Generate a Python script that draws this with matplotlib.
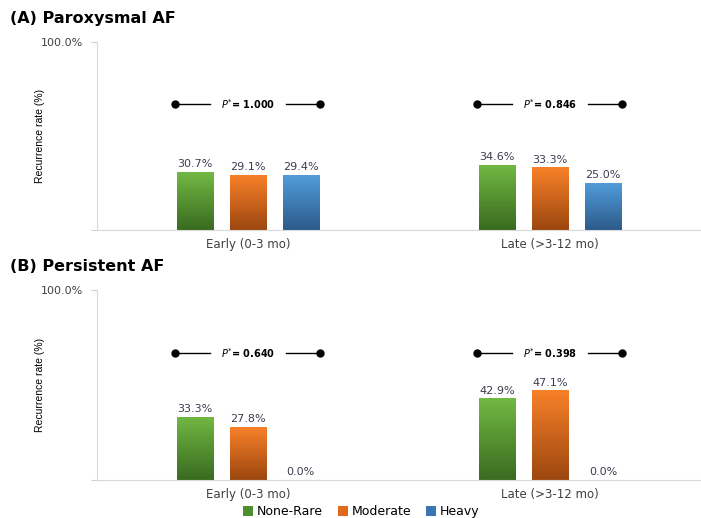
import matplotlib
matplotlib.use("Agg")
import matplotlib.pyplot as plt
import numpy as np
from matplotlib.colors import LinearSegmentedColormap
from matplotlib.patches import Patch

# data
periods = ["Early (0-3 mo)", "Late (>3-12 mo)"]
groups = ["None-Rare", "Moderate", "Heavy"]
parox = [[30.7, 29.1, 29.4], [34.6, 33.3, 25.0]]
persist = [[33.3, 27.8, 0.0], [42.9, 47.1, 0.0]]
parox_p = ["1.000", "0.846"]
persist_p = ["0.640", "0.398"]
panel_titles = ["(A) Paroxysmal AF", "(B) Persistent AF"]

# gradient colours: (top, bottom)
grad = [("#72b843", "#3a6b20"), ("#f88028", "#9c4710"), ("#529ddc", "#2c5b8a")]
legend_cols = ["#4f8f2e", "#e06a1c", "#3a76b0"]

width = 0.12
step = 0.1755
p_height = 67

fig = plt.figure(figsize=(7.01, 5.18), dpi=100)
ax_a = fig.add_axes([0.138, 0.556, 0.862, 0.363])
ax_b = fig.add_axes([0.138, 0.0734, 0.862, 0.367])


def draw_panel(ax, values, pvals):
    x = np.arange(len(periods))
    for g in range(len(groups)):
        vals = [v[g] for v in values]
        bars = ax.bar(x + (g - 1) * step, vals, width, color="none",
                      edgecolor="none", zorder=2)
        cmap = LinearSegmentedColormap.from_list("g%d" % g, [grad[g][1], grad[g][0]])
        for b, v in zip(bars, vals):
            if v > 0:
                img = ax.imshow(np.linspace(0, 1, 64).reshape(-1, 1), cmap=cmap,
                                origin="lower", aspect="auto",
                                extent=[b.get_x(), b.get_x() + b.get_width(), 0, v],
                                zorder=2)
                img.set_clip_path(b)
            ax.text(b.get_x() + b.get_width() / 2, v + 1.5, "%.1f%%" % v,
                    ha="center", va="bottom", fontsize=8, color="#3c3c50")
    # p-value brackets
    for xi, p in zip(x, pvals):
        ax.plot([xi - 0.24, xi - 0.125], [p_height, p_height], color="black", lw=1)
        ax.plot([xi + 0.125, xi + 0.24], [p_height, p_height], color="black", lw=1)
        ax.plot([xi - 0.24, xi + 0.24], [p_height, p_height], "o", color="black",
                markersize=5)
        ax.text(xi, p_height, r"$P^{*}$= " + p, ha="center", va="center",
                fontsize=7, fontweight="bold")
    ax.set_xlim(-0.5, 1.5)
    ax.set_ylim(0, 100)
    ax.set_xticks(x)
    ax.set_xticklabels(periods, fontsize=8.5, color="#404040")
    ax.tick_params(axis="x", length=0, pad=6)
    ax.set_yticks([0, 100])
    ax.set_yticklabels(["", "100.0%"], fontsize=8, color="#404040")
    ax.tick_params(axis="y", length=4, color="#d0d0d0", pad=6)
    for s in ["top", "right"]:
        ax.spines[s].set_visible(False)
    for s in ["left", "bottom"]:
        ax.spines[s].set_color("#d9d9d9")
    ax.set_ylabel("Recurrence rate (%)", fontsize=7.5,
                  family=["Liberation Sans Narrow", "Liberation Sans", "DejaVu Sans"])
    ax.yaxis.set_label_coords(-0.086, 0.5)


draw_panel(ax_a, parox, parox_p)
draw_panel(ax_b, persist, persist_p)

fig.text(0.014, 0.965, panel_titles[0], fontsize=11.5, fontweight="bold", va="center")
fig.text(0.014, 0.485, panel_titles[1], fontsize=11.5, fontweight="bold", va="center")

handles = [Patch(facecolor=c, edgecolor="none") for c in legend_cols]
fig.legend(handles, groups, loc="center", bbox_to_anchor=(0.515, 0.012), ncol=3,
           frameon=False, fontsize=9, handlelength=0.8, handleheight=0.8,
           handletextpad=0.3, columnspacing=1.2)

fig.savefig("out.png", dpi=100)
